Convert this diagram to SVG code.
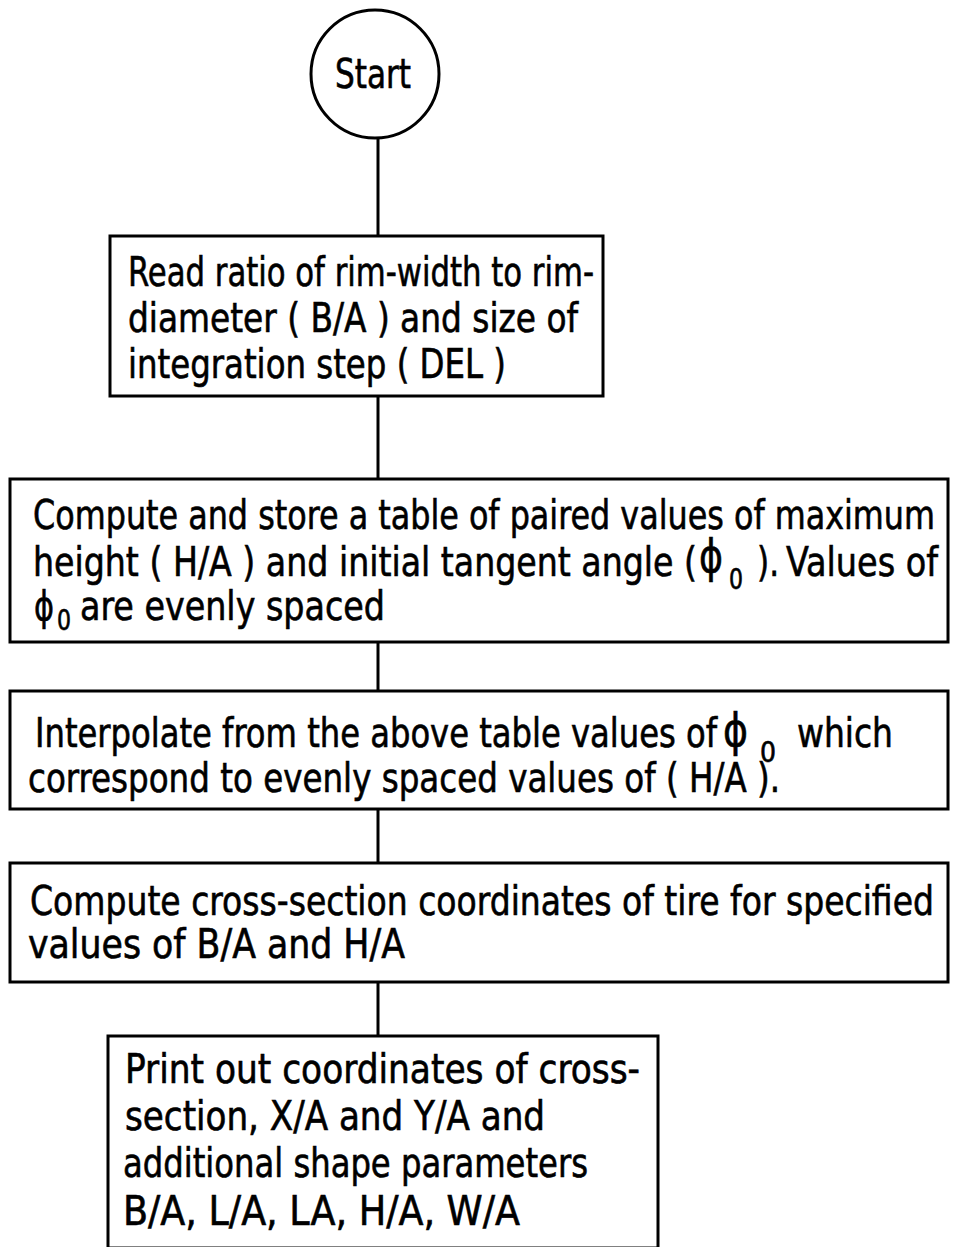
<svg xmlns="http://www.w3.org/2000/svg" width="953" height="1247" viewBox="0 0 953 1247">
<style>
.box{fill:#fff;stroke:#000;stroke-width:3}
.conn{stroke:#000;stroke-width:3;fill:none}
text{font-family:"DejaVu Sans Condensed","DejaVu Sans",sans-serif;font-stretch:condensed;font-size:41px;fill:#000;stroke:#000;stroke-width:0.6}
.phi{font-size:46px}
.sub{font-size:28px}
</style>
<rect width="953" height="1247" fill="#fff"/>
<g id="connectors">
<line class="conn" x1="378" y1="139" x2="378" y2="236"/>
<line class="conn" x1="378" y1="396" x2="378" y2="479"/>
<line class="conn" x1="378" y1="642" x2="378" y2="691"/>
<line class="conn" x1="378" y1="809" x2="378" y2="863"/>
<line class="conn" x1="378" y1="982" x2="378" y2="1036"/>
</g>
<g id="start">
<circle cx="375" cy="74" r="64" fill="#fff" stroke="#000" stroke-width="3"/>
<text x="373" y="88" text-anchor="middle" textLength="76" lengthAdjust="spacingAndGlyphs">Start</text>
</g>
<g id="read">
<rect class="box" x="110" y="236" width="493" height="160"/>
<text x="128" y="286" textLength="466" lengthAdjust="spacingAndGlyphs">Read ratio of rim-width to rim-</text>
<text x="128" y="332" textLength="450" lengthAdjust="spacingAndGlyphs">diameter ( B/A ) and size of</text>
<text x="128" y="378" textLength="378" lengthAdjust="spacingAndGlyphs">integration step ( DEL )</text>
</g>
<g id="table">
<rect class="box" x="10" y="479" width="938" height="163"/>
<text x="33" y="529" textLength="902" lengthAdjust="spacingAndGlyphs">Compute and store a table of paired values of maximum</text>
<text x="33" y="576" textLength="664" lengthAdjust="spacingAndGlyphs">height ( H/A ) and initial tangent angle (</text>
<text class="phi" x="699" y="572" textLength="24" lengthAdjust="spacingAndGlyphs">ϕ</text>
<text class="sub" x="729" y="589" textLength="14" lengthAdjust="spacingAndGlyphs">0</text>
<text x="757" y="576" textLength="22" lengthAdjust="spacingAndGlyphs">).</text>
<text x="786" y="576" textLength="152" lengthAdjust="spacingAndGlyphs">Values of</text>
<text x="34" y="620" textLength="20" lengthAdjust="spacingAndGlyphs">ϕ</text>
<text class="sub" x="57" y="630" textLength="14" lengthAdjust="spacingAndGlyphs">0</text>
<text x="80" y="620" textLength="305" lengthAdjust="spacingAndGlyphs">are evenly spaced</text>
</g>
<g id="interpolate">
<rect class="box" x="10" y="691" width="938" height="118"/>
<text x="35" y="747" textLength="682" lengthAdjust="spacingAndGlyphs">Interpolate from the above table values of</text>
<text class="phi" x="723" y="746" textLength="25" lengthAdjust="spacingAndGlyphs">ϕ</text>
<text class="sub" x="760" y="762" textLength="16" lengthAdjust="spacingAndGlyphs">0</text>
<text x="797" y="747" textLength="96" lengthAdjust="spacingAndGlyphs">which</text>
<text x="28" y="792" textLength="752" lengthAdjust="spacingAndGlyphs">correspond to evenly spaced values of ( H/A ).</text>
</g>
<g id="crosssection">
<rect class="box" x="10" y="863" width="938" height="119"/>
<text x="30" y="915" textLength="904" lengthAdjust="spacingAndGlyphs">Compute cross-section coordinates of tire for specified</text>
<text x="28" y="958" textLength="377" lengthAdjust="spacingAndGlyphs">values of  B/A and  H/A</text>
</g>
<g id="print">
<rect class="box" x="108" y="1036" width="550" height="212"/>
<text x="125" y="1083" textLength="515" lengthAdjust="spacingAndGlyphs">Print out coordinates of cross-</text>
<text x="125" y="1130" textLength="420" lengthAdjust="spacingAndGlyphs">section,  X/A and Y/A and</text>
<text x="123" y="1177" textLength="465" lengthAdjust="spacingAndGlyphs">additional shape parameters</text>
<text x="123" y="1225" textLength="397" lengthAdjust="spacingAndGlyphs">B/A,  L/A,  LA,  H/A,  W/A</text>
</g>
</svg>
